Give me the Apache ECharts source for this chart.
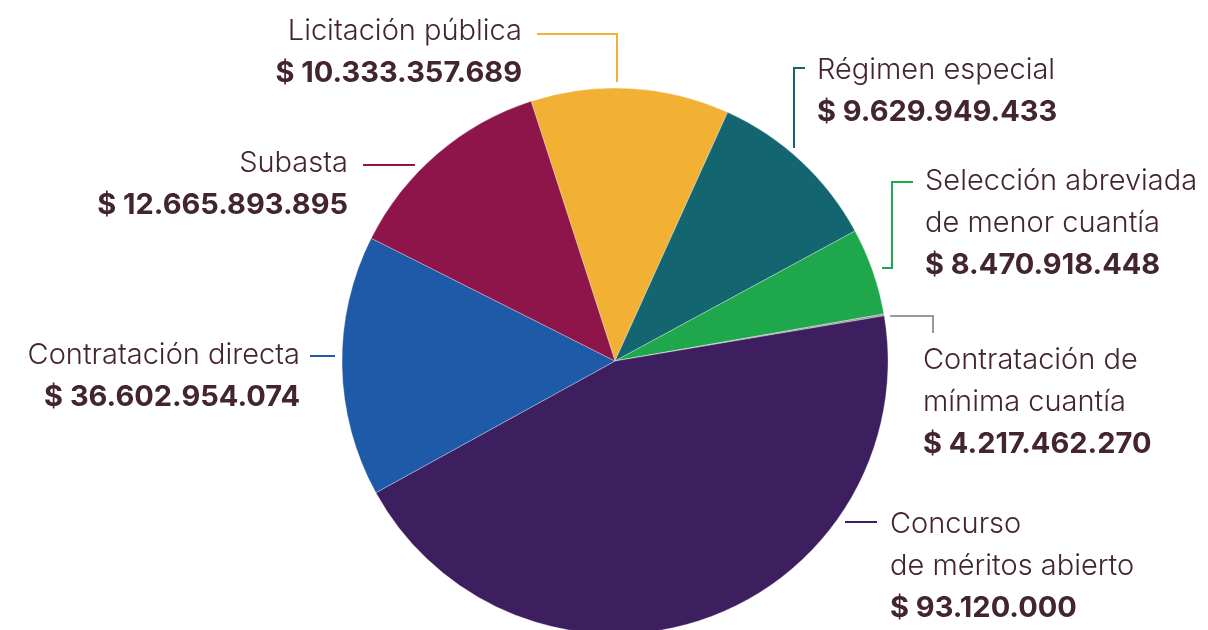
<!DOCTYPE html>
<html>
<head>
<meta charset="utf-8">
<script src="https://cdn.jsdelivr.net/npm/echarts@6/dist/echarts.min.js"></script>
<style>
	html, body { margin: 0; padding: 0; background: #fff; }
	#pieContent { width: 1208px; height: 630px; }
</style>
</head>
<body>
<div id="pieContent"></div>
<script>
// categories, in the order the slices run clockwise from the top
let categories = [
	['Licitación pública'],
	['Régimen especial'],
	['Selección abreviada', 'de menor cuantía'],
	['Contratación de', 'mínima cuantía'],
	['Concurso', 'de méritos abierto'],
	['Contratación directa'],
	['Subasta']
]
// amounts printed in each label
let amounts = ['10.333.357.689', '9.629.949.433', '8.470.918.448', '4.217.462.270', '93.120.000', '36.602.954.074', '12.665.893.895']
// size of each slice as drawn (the source draws every slice with the amount of the next label)
let sliceValues = [9629949433, 8470918448, 4217462270, 93120000, 36602954074, 12665893895, 10333357689]
let colors = ['#f2b035', '#136570', '#1ea84b', '#9a9a9a', '#3d1e5f', '#1f5aa8', '#8e154a']

// where each label block sits and how its leader line runs
let labelPos = [
	{ x: 522, y: 10, align: 'right', line: [[617, 82], [617, 34], [537, 34]] },
	{ x: 817, y: 49, align: 'left', line: [[794, 148], [794, 68], [805, 68]] },
	{ x: 925, y: 160, align: 'left', line: [[882, 268], [892, 268], [892, 182], [913, 182]] },
	{ x: 923, y: 339, align: 'left', line: [[890, 316], [933, 316], [933, 333]] },
	{ x: 890, y: 503, align: 'left', line: [[845, 522], [877, 522]] },
	{ x: 300, y: 334, align: 'right', line: [[335, 356], [310, 356]] },
	{ x: 348, y: 142, align: 'right', line: [[415, 165], [363, 165]] }
]

let pieContent = echarts.init(document.getElementById('pieContent'));
let pieOption = {
	backgroundColor: '#fff',
	color: colors,
	textStyle: {
		fontFamily: 'Inter'
	},
	series: [{
		type: 'pie',
		center: [615, 361],
		radius: 273,
		startAngle: 107.9,
		clockwise: true,
		avoidLabelOverlap: false,
		itemStyle: {
			borderColor: 'rgba(255,255,255,0.6)',
			borderWidth: 0.5
		},
		label: {
			show: true,
			position: 'outside',
			formatter: function(params) {
				let lines = categories[params.dataIndex].map(t => '{n|' + t + '}')
				lines.push('{v|$ ' + amounts[params.dataIndex] + '}')
				return lines.join('\n')
			},
			rich: {
				n: {
					fontFamily: 'Inter',
					fontSize: 29,
					fontWeight: 300,
					color: '#42252e',
					lineHeight: 42
				},
				v: {
					fontFamily: 'Inter',
					fontSize: 29,
					fontWeight: 'bold',
					color: '#42252e',
					lineHeight: 42
				}
			}
		},
		labelLine: {
			show: true,
			lineStyle: {
				width: 2
			}
		},
		labelLayout: function(params) {
			let p = labelPos[params.dataIndex]
			return {
				x: p.x,
				y: p.y,
				align: p.align,
				verticalAlign: 'top',
				labelLinePoints: p.line
			}
		},
		emphasis: {
			disabled: true
		},
		data: sliceValues.map((v, i) => {
			return { value: v, name: categories[i].join(' ') }
		})
	}]
};
pieContent.setOption(pieOption)
</script>
</body>
</html>
